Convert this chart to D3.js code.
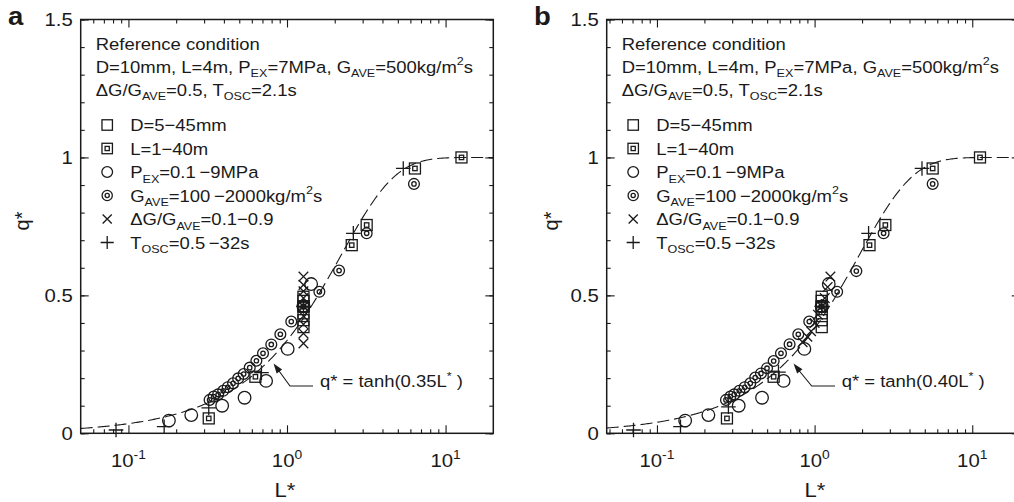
<!DOCTYPE html>
<html><head><meta charset="utf-8">
<script src="https://cdn.jsdelivr.net/npm/d3@7"></script>
<style>body{margin:0;background:#fff}svg{display:block;font-family:"Liberation Sans",Arial,Helvetica,sans-serif}</style>
</head><body><svg id="c" width="1014" height="502"></svg>
<script>
// ---------- data ----------
const xMajorTicks = [0.1, 1, 10];
const xMajorExps = ["-1", "0", "1"];
const yTicks = [0, 0.5, 1, 1.5];
const yTickLabels = ["0", "0.5", "1", "1.5"];
const panelLetters = ["a", "b"];
const fitCoefA = 0.35;
const fitCoefB = 0.40;
const fitLabelA = "0.35";
const fitLabelB = "0.40";

// panel a series: [L*, q*]
const aD  = [[1.27,0.385],[1.27,0.41],[1.27,0.435],[1.27,0.46],[1.27,0.48],[1.27,0.495]];
const aL  = [[0.321,0.054],[0.632,0.205],[1.27,0.46],[2.56,0.682],[3.18,0.755],[6.41,0.96],[12.6,1.0]];
const aP  = [[0.18,0.046],[0.249,0.066],[0.39,0.10],[0.54,0.129],[0.738,0.19],[1.01,0.306],[1.27,0.46],[1.42,0.541]];
const aG  = [[0.325,0.121],[0.345,0.133],[0.368,0.141],[0.396,0.154],[0.423,0.167],[0.457,0.181],[0.492,0.199],[0.533,0.215],[0.582,0.238],[0.641,0.263],[0.706,0.29],[0.796,0.322],[0.908,0.359],[1.064,0.405],[1.27,0.459],[1.6,0.513],[2.13,0.59],[3.18,0.725],[6.32,0.904]];
const aX  = [[1.27,0.326],[1.27,0.362],[1.27,0.395],[1.27,0.425],[1.27,0.46],[1.27,0.49],[1.27,0.515],[1.27,0.538],[1.27,0.568]];
const aT  = [[0.0835,0.012],[0.168,0.024],[0.321,0.092],[0.69,0.22],[1.27,0.46],[2.62,0.725],[5.41,0.96]];

// panel b series
const bD  = [[1.11,0.385],[1.11,0.41],[1.11,0.435],[1.11,0.46],[1.11,0.48],[1.11,0.495]];
const bL  = [[0.278,0.054],[0.55,0.205],[1.11,0.46],[2.23,0.682],[2.81,0.755],[5.61,0.96],[11.2,1.0]];
const bP  = [[0.151,0.046],[0.212,0.066],[0.33,0.10],[0.464,0.129],[0.636,0.19],[0.861,0.306],[1.11,0.46],[1.23,0.541]];
const bG  = [[0.274,0.121],[0.292,0.133],[0.309,0.141],[0.333,0.154],[0.36,0.167],[0.391,0.181],[0.42,0.202],[0.457,0.217],[0.499,0.236],[0.55,0.262],[0.612,0.29],[0.694,0.323],[0.788,0.359],[0.925,0.405],[1.10,0.459],[1.39,0.513],[1.84,0.588],[2.74,0.725],[5.61,0.904]];
const bX  = [[0.84,0.33],[0.90,0.35],[0.95,0.37],[1.0,0.40],[1.05,0.43],[1.11,0.46],[1.16,0.49],[1.21,0.53],[1.26,0.568]];
const bT  = [[0.071,0.012],[0.141,0.024],[0.284,0.096],[0.59,0.222],[1.11,0.46],[2.2,0.725],[4.8,0.96]];

const seriesTypes = ["sq", "dsq", "c", "dc", "x", "plus"];
const refLines = [
  [["Reference condition"]],
  [["D=10mm, L=4m, P"],["EX","sub"],["=7MPa, G"],["AVE","sub"],["=500kg/m"],["2","sup"],["s"]],
  [["\u0394G/G"],["AVE","sub"],["=0.5, T"],["OSC","sub"],["=2.1s"]]
];
const legendLabels = [
  [["D=5\u221245mm"]],
  [["L=1\u221240m"]],
  [["P"],["EX","sub"],["=0.1\u2009\u22129MPa"]],
  [["G"],["AVE","sub"],["=100\u2009\u22122000kg/m"],["2","sup"],["s"]],
  [["\u0394G/G"],["AVE","sub"],["=0.1\u22120.9"]],
  [["T"],["OSC","sub"],["=0.5\u2009\u221232s"]]
];

// ---------- drawing ----------
const SX = 1.1;
const INK = "#1a1a1a";
const svg = d3.select("#c");

function rich(parent, x, y, segs, size, anchor, weight) {
  const t = parent.append("text")
    .attr("transform", `translate(${x},${y}) scale(${SX},1)`)
    .attr("font-size", size).attr("fill", INK)
    .attr("text-anchor", anchor || "start");
  if (weight) t.attr("font-weight", weight);
  let cur = 0;
  segs.forEach(([s, m]) => {
    const target = m === "sub" ? size * 0.28 : m === "sup" ? -size * 0.42 : 0;
    const ts = t.append("tspan").text(s).attr("dy", target - cur);
    if (m) ts.attr("font-size", size * 0.68);
    cur = target;
  });
  return t;
}

function marker(g, type, cx, cy, s) {
  s = s || 1;
  const st = {stroke: INK, "stroke-width": 1.3, fill: "none"};
  const ap = (el) => { Object.entries(st).forEach(([k,v]) => el.attr(k, v)); return el; };
  if (type === "sq" || type === "dsq") {
    ap(g.append("rect").attr("x", cx-5.5*s).attr("y", cy-5.5*s).attr("width", 11*s).attr("height", 11*s));
    if (type === "dsq") ap(g.append("rect").attr("x", cx-2.2*s).attr("y", cy-2.2*s).attr("width", 4.4*s).attr("height", 4.4*s));
  } else if (type === "c") {
    ap(g.append("circle").attr("cx", cx).attr("cy", cy).attr("r", 6.3*s));
  } else if (type === "dc") {
    ap(g.append("circle").attr("cx", cx).attr("cy", cy).attr("r", 5.4*s));
    ap(g.append("circle").attr("cx", cx).attr("cy", cy).attr("r", 2.2*s));
  } else if (type === "x") {
    const d = 4.8*s;
    ap(g.append("path").attr("d", `M${cx-d},${cy-d}L${cx+d},${cy+d}M${cx-d},${cy+d}L${cx+d},${cy-d}`));
  } else if (type === "plus") {
    const d = 7.3*s;
    ap(g.append("path").attr("d", `M${cx-d},${cy}L${cx+d},${cy}M${cx},${cy-d}L${cx},${cy+d}`));
  }
}

const panels = [
  {left: 80.7, right: 493.3, xmin: 0.05, xmax: 20, series: [aD,aL,aP,aG,aX,aT], k: fitCoefA, kLabel: fitLabelA,
   letterX: 8, ylabX: 22, xlabX: 285,
   fitText: [320, 387], arrow: [[313,386],[290,386],[273.5,363.5]]},
  {left: 606.7, right: 1019.7, xmin: 0.048, xmax: 20, series: [bD,bL,bP,bG,bX,bT], k: fitCoefB, kLabel: fitLabelB,
   letterX: 534, ylabX: 551, xlabX: 815,
   fitText: [841.7, 387], arrow: [[835,386],[811.7,386],[793.5,363.5]]}
];
const TOP = 19.5, BOTTOM = 433.3;

panels.forEach((p, pi) => {
  const g = svg.append("g");
  const x = d3.scaleLog().domain([p.xmin, p.xmax]).range([p.left, p.right]);
  const y = d3.scaleLinear().domain([0, 1.5]).range([BOTTOM, TOP]);

  const minorX = [];
  [0.01, 0.1, 1, 10].forEach(dec => { for (let m = 2; m <= 9; m++) { const v = dec*m; if (v > p.xmin && v < p.xmax) minorX.push(v); } });
  const yMinor = d3.range(0, 16).map(i => i/10);

  const axStyle = sel => { sel.select(".domain").remove(); sel.selectAll("line").attr("stroke", INK).attr("stroke-width", 1.1); };
  g.append("g").attr("transform", `translate(0,${BOTTOM})`).call(d3.axisBottom(x).tickValues(minorX).tickSize(-4).tickFormat("")).call(axStyle);
  g.append("g").attr("transform", `translate(0,${BOTTOM})`).call(d3.axisBottom(x).tickValues(xMajorTicks).tickSize(-8).tickFormat("")).call(axStyle);
  g.append("g").attr("transform", `translate(0,${TOP})`).call(d3.axisTop(x).tickValues(minorX).tickSize(-4).tickFormat("")).call(axStyle);
  g.append("g").attr("transform", `translate(0,${TOP})`).call(d3.axisTop(x).tickValues(xMajorTicks).tickSize(-8).tickFormat("")).call(axStyle);
  g.append("g").attr("transform", `translate(${p.left},0)`).call(d3.axisLeft(y).tickValues(yMinor).tickSize(-4).tickFormat("")).call(axStyle);
  g.append("g").attr("transform", `translate(${p.left},0)`).call(d3.axisLeft(y).tickValues(yTicks).tickSize(-8).tickFormat("")).call(axStyle);
  g.append("g").attr("transform", `translate(${p.right},0)`).call(d3.axisRight(y).tickValues(yMinor).tickSize(-4).tickFormat("")).call(axStyle);
  g.append("g").attr("transform", `translate(${p.right},0)`).call(d3.axisRight(y).tickValues(yTicks).tickSize(-8).tickFormat("")).call(axStyle);

  g.append("rect").attr("x", p.left).attr("y", TOP).attr("width", p.right - p.left).attr("height", BOTTOM - TOP)
    .attr("fill", "none").attr("stroke", INK).attr("stroke-width", 1.5);

  // tick labels
  xMajorTicks.forEach((v, i) => rich(g, x(v), 466.7, [["10"],[xMajorExps[i],"sup"]], 18.5, "middle"));
  yTicks.forEach((v, i) => rich(g, p.left - 8, y(v) + 6.5, [[yTickLabels[i]]], 18.5, "end"));

  // axis titles
  rich(g, p.xlabX, 497, [["L*"]], 20, "middle");
  g.append("text").attr("transform", `translate(${p.ylabX + 7},${221}) rotate(-90)`)
    .attr("font-size", 20).attr("text-anchor", "middle").attr("fill", INK).text("q*");

  // panel letter
  rich(g, p.letterX, 25, [[panelLetters[pi]]], 25, "start", "bold");

  // fitted curve q* = tanh(k L*)
  const clipId = "clip" + pi;
  svg.append("clipPath").attr("id", clipId).append("rect")
    .attr("x", p.left).attr("y", TOP).attr("width", p.right - p.left).attr("height", BOTTOM - TOP);
  const Ls = d3.range(0, 301).map(i => p.xmin * Math.pow(p.xmax / p.xmin, i / 300));
  g.append("path").datum(Ls.map(L => [L, Math.tanh(p.k * L)]))
    .attr("clip-path", `url(#${clipId})`)
    .attr("d", d3.line().x(d => x(d[0])).y(d => y(d[1])))
    .attr("fill", "none").attr("stroke", INK).attr("stroke-width", 1.1).attr("stroke-dasharray", "12,5");

  // data markers
  const mg = g.append("g");
  p.series.forEach((s, si) => s.forEach(d => marker(mg, seriesTypes[si], x(d[0]), y(d[1]))));

  // reference text
  const tx = p.left + 15;
  [49.5, 72.5, 95.5].forEach((yy, i) => rich(g, tx, yy, refLines[i], 16.8));
  // legend
  legendLabels.forEach((lab, i) => {
    const yy = 131 + i * 23.5;
    marker(g, seriesTypes[i], p.left + 26.5, yy - 6, seriesTypes[i] === "c" ? 0.85 : seriesTypes[i] === "plus" ? 0.9 : 0.95);
    rich(g, p.left + 49.5, yy, lab, 16.8);
  });

  // fit annotation + arrow
  rich(g, p.fitText[0], p.fitText[1], [["q* = tanh(" + p.kLabel + "L"],["*","sup"],[" )"]], 16.8);
  const a = p.arrow;
  g.append("path").attr("d", `M${a[0][0]},${a[0][1]}L${a[1][0]},${a[1][1]}L${a[2][0]+3},${a[2][1]+4}`)
    .attr("fill", "none").attr("stroke", INK).attr("stroke-width", 1.1);
  const ang = Math.atan2(a[2][1] - a[1][1], a[2][0] - a[1][0]);
  const tip = a[2], L = 10, Wd = 3.4;
  const bx = tip[0] - L*Math.cos(ang), by = tip[1] - L*Math.sin(ang);
  g.append("path").attr("d", `M${tip[0]},${tip[1]}L${bx - Wd*Math.sin(ang)},${by + Wd*Math.cos(ang)}L${bx + Wd*Math.sin(ang)},${by - Wd*Math.cos(ang)}Z`)
    .attr("fill", INK);
});
</script></body></html>
